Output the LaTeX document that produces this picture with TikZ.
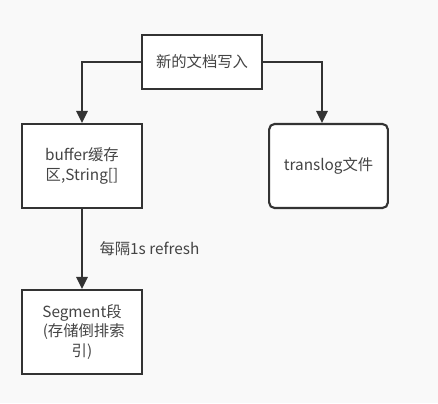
\documentclass[tikz,border=0pt]{standalone}
\usepackage{fontspec}
\setmainfont{Noto Sans CJK SC}
\usetikzlibrary{arrows.meta,positioning}
\definecolor{paper}{RGB}{249,249,249}
\definecolor{ink}{RGB}{51,51,51}
\definecolor{textgray}{RGB}{68,68,68}

\begin{document}
\begin{tikzpicture}[x=0.75pt, y=-0.75pt, >={Triangle[width=8.5pt,length=9pt]},
    box/.style={draw=ink, line width=1.6pt, fill=white, text=textgray,
        font=\fontsize{11.5pt}{14.5pt}\selectfont, align=center, inner sep=0pt},
    flow/.style={->, draw=ink, line width=1.6pt}]

    % background
    \fill[paper] (0,0) rectangle (438,403);
    \useasboundingbox (0,0) rectangle (438,403);

    % boxes
    \node[box, minimum width=90pt, minimum height=40pt] (write) at (202,62) {新的文档写入};
    \node[box, minimum width=90pt, minimum height=63pt] (buffer) at (82,166) {buffer缓存\\区,String[]};
    \node[box, rounded corners=4pt, minimum width=89pt, minimum height=63pt] (translog) at (328.5,166) {translog文件};
    \node[box, minimum width=90pt, minimum height=63pt] (segment) at (82,332) {Segment段\\\ (存储倒排索\\引)};

    % connectors
    \coordinate (lcorner) at (buffer.north |- write.west);
    \coordinate (rcorner) at (322,62);
    \draw[flow] (write.west) -- (lcorner) -- (buffer.north);
    \draw[flow] (write.east) -- (rcorner) -- (rcorner |- translog.north);
    \draw[flow] (buffer.south) -- (segment.north)
        node[midway, right=9pt, text=textgray, font=\fontsize{11.5pt}{14.5pt}\selectfont] {每隔1s refresh};

\end{tikzpicture}
\end{document}
